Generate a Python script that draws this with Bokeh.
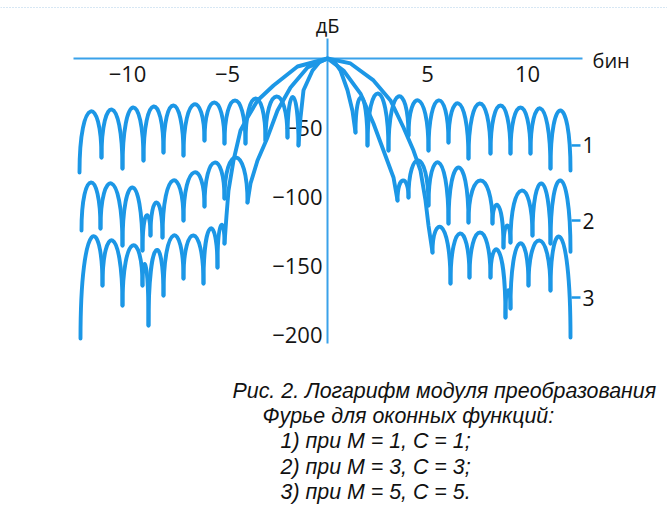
from bokeh.plotting import figure
from bokeh.models import FixedTicker, ColumnDataSource, Span
from bokeh.embed import file_html
from bokeh.resources import INLINE
from bokeh.core.properties import value

# ---------------- data (bins, dB) ----------------
# Curve 1 (M = 1, C = 1)
c1_left_nx = [-12.4, -11.3, -10.25, -9.2, -8.2, -7.2, -6.15, -5.15, -4.1, -3.1, -2.0, -1.45]
c1_left_ny = [-82.6, -71.7, -79.7, -73.9, -68.1, -70.3, -59.4, -61.6, -61.6, -59.4, -57.2, -63.0]
c1_left_pk = [-38.4, -37.0, -35.5, -34.8, -34.1, -33.3, -31.9, -30.4, -29.0, -27.5, -28.0]
c1_main_x = [-1.45, -1.35, -1.2, -0.75, -0.4, 0.0, 0.35, 0.65, 1.0, 1.25, 1.4]
c1_main_y = [-63.0, -43.0, -23.0, -8.7, -2.5, 0.0, -2.5, -8.7, -23.0, -38.0, -53.6]
c1_right_nx = [1.4, 2.0, 3.05, 4.05, 5.05, 6.05, 7.05, 8.15, 9.15, 10.15, 11.15, 12.15]
c1_right_ny = [-53.6, -63.0, -66.7, -55.8, -66.7, -60.9, -72.5, -68.8, -68.8, -68.8, -79.7, -81.2]
c1_right_pk = [-28.3, -25.4, -27.5, -30.4, -30.4, -32.6, -32.6, -34.1, -35.5, -36.2, -37.7]

# Curve 2 (M = 3, C = 3)
c2_left_nx = [-12.3, -11.35, -10.25, -9.25, -8.85, -8.25, -7.2, -6.15, -5.15, -4.0]
c2_left_ny = [-124.6, -123.2, -135.5, -139.1, -128.3, -129.7, -117.4, -107.2, -101.4, -104.3]
c2_left_pk = [-89.9, -90.6, -93.5, -113.8, -104.3, -88.4, -82.6, -75.4, -71.7]
c2_main_x = [-4.0, -3.85, -3.5, -3.0, -2.5, -1.85, -1.0, 0.0, 0.8, 1.65, 2.3, 2.8, 3.3, 3.5]
c2_main_y = [-104.3, -90.6, -73.9, -57.2, -37.7, -21.0, -6.5, 0.0, -8.7, -25.4, -47.1, -66.7, -86.2, -102.9]
c2_right_nx = [3.5, 4.05, 5.05, 6.05, 7.05, 8.25, 8.8, 9.15, 10.25, 11.15, 12.15]
c2_right_ny = [-102.9, -100.7, -106.5, -119.6, -118.8, -119.6, -137.0, -133.3, -128.3, -134.1, -140.0]
c2_right_pk = [-88.4, -73.9, -75.4, -79.0, -88.4, -106.5, -121.0, -95.7, -90.6, -88.4]

# Curve 3 (M = 5, C = 5)
c3_left_nx = [-12.35, -11.25, -10.25, -9.25, -8.95, -8.2, -7.2, -6.2, -5.5, -5.15]
c3_left_ny = [-202.9, -164.5, -179.0, -164.5, -193.5, -171.7, -159.4, -163.0, -151.4, -134.1]
c3_left_pk = [-129.7, -131.9, -135.5, -150.0, -139.1, -128.3, -128.3, -123.2, -121.0]
c3_main_x = [-5.15, -5.05, -4.95, -4.7, -4.35, -4.0, -3.5, -2.7, -1.5, 0.0,
             1.15, 2.3, 3.15, 3.8, 4.3, 4.65, 4.9, 5.05, 5.25]
c3_main_y = [-134.1, -113.8, -95.7, -73.9, -52.2, -42.8, -30.4, -19.6, -5.8, 0.0,
             -3.6, -15.9, -30.4, -50.0, -66.7, -81.2, -102.9, -121.0, -140.6]
c3_right_nx = [5.25, 6.15, 7.1, 8.15, 8.9, 9.15, 10.05, 11.15, 12.15]
c3_right_ny = [-140.6, -163.0, -158.7, -158.7, -187.7, -181.2, -164.5, -168.1, -202.2]
c3_right_pk = [-122.5, -126.8, -126.1, -139.1, -168.0, -134.1, -131.9, -129.7]

x_ticks = [-10, -5, 5, 10]
y_ticks = [-200, -150, -100, -50]
curve_names = ["1", "2", "3"]
curve_end_db = [-63.0, -117.4, -173.2]

caption = ["Рис. 2. Логарифм модуля преобразования",
           "Фурье для оконных функций:",
           "1) при M = 1, C = 1;",
           "2) при M = 3, C = 3;",
           "3) при M = 5, C = 5."]

# ---------------- styling ----------------
BLUE = "#1c97e6"
AXIS_BLUE = "#3aa2ea"
LW = 3.9
W, H = 667, 518

p = figure(width=W, height=H,
           x_range=((0 - 327) / 20.0, (W - 327) / 20.0),
           y_range=((58 - H) / 1.38, 58 / 1.38),
           output_backend="svg", toolbar_location=None, min_border=0)
p.outline_line_color = None
p.grid.visible = False

# faint dotted page edge at the top of the scan
p.add_layout(Span(location=(58 - 7) / 1.38, dimension="width", line_color="#9cc4e4",
                  line_width=1.2, line_dash="1 2", line_alpha=0.8))

for ax in (p.xaxis[0], p.yaxis[0]):
    ax.fixed_location = 0
    ax.axis_line_color = AXIS_BLUE
    ax.axis_line_width = 2
    ax.major_tick_line_color = None
    ax.minor_tick_line_color = None
    ax.major_tick_in = 0
    ax.major_tick_out = 0
    ax.major_label_text_font = "Open Sans"
    ax.major_label_text_font_size = "22px"
    ax.major_label_text_color = "#151515"

p.xaxis.ticker = FixedTicker(ticks=x_ticks, minor_ticks=[])
p.xaxis.major_label_overrides = {t: (("\u2212" + str(-t)) if t < 0 else str(t)) for t in x_ticks}
p.xaxis.bounds = (-12.7, 12.75)
p.xaxis.major_label_standoff = 7

p.yaxis.ticker = FixedTicker(ticks=y_ticks, minor_ticks=[])
p.yaxis.major_label_overrides = {t: "\u2212" + str(-t) for t in y_ticks}
p.yaxis.bounds = (-206.5, 14.5)
p.yaxis.major_label_standoff = 5


def lobes(nx, ny, pk):
    x0, x1 = nx[:-1], nx[1:]
    y0, y1 = ny[:-1], ny[1:]
    cy = [(pp - 0.125 * (a + b)) / 0.75 for pp, a, b in zip(pk, y0, y1)]
    return ColumnDataSource(dict(x0=x0, y0=y0, x1=x1, y1=y1, cx0=x0, cy0=cy, cx1=x1, cy1=cy))


curves = [
    (c1_left_nx, c1_left_ny, c1_left_pk, c1_main_x, c1_main_y, c1_right_nx, c1_right_ny, c1_right_pk),
    (c2_left_nx, c2_left_ny, c2_left_pk, c2_main_x, c2_main_y, c2_right_nx, c2_right_ny, c2_right_pk),
    (c3_left_nx, c3_left_ny, c3_left_pk, c3_main_x, c3_main_y, c3_right_nx, c3_right_ny, c3_right_pk),
]
for lnx, lny, lpk, mx, my, rnx, rny, rpk in curves:
    for src in (lobes(lnx, lny, lpk), lobes(rnx, rny, rpk)):
        r = p.bezier(x0="x0", y0="y0", x1="x1", y1="y1", cx0="cx0", cy0="cy0", cx1="cx1", cy1="cy1",
                     source=src, line_color=BLUE, line_width=LW, line_cap="round")
        r.level = "overlay"
    r = p.line(mx, my, line_color=BLUE, line_width=LW, line_join="round", line_cap="round")
    r.level = "overlay"

# curve number markers at the right ends
r = p.segment(x0=[12.2] * 3, x1=[12.65] * 3, y0=curve_end_db, y1=curve_end_db,
              line_color=BLUE, line_width=2.5)
r.level = "overlay"
p.text(x=[12.75] * 3, y=curve_end_db, text=curve_names, text_font=value("Open Sans"),
       text_font_size="21px", text_color="#111111", text_align="left", text_baseline="middle")

# axis names
p.text(x=[0.0], y=[23.9], text=["дБ"], text_font=value("Open Sans"), text_font_size="20px",
       text_color="#151515", text_align="center", text_baseline="middle")
p.text(x=[13.25], y=[-1.45], text=["бин"], text_font=value("Open Sans"), text_font_size="20px",
       text_color="#151515", text_align="left", text_baseline="middle")

# caption
cap_x = [-4.75, -3.25, -2.35, -2.35, -2.35]
cap_y = [-241.3, -258.7, -277.5, -295.7, -313.8]
p.text(x=cap_x, y=cap_y, text=caption, text_font=value("Liberation Sans"), text_font_size="21.4px",
       text_font_style="italic", text_color="#111111", text_align="left", text_baseline="middle")

open("out.html", "w").write(file_html(p, INLINE))
